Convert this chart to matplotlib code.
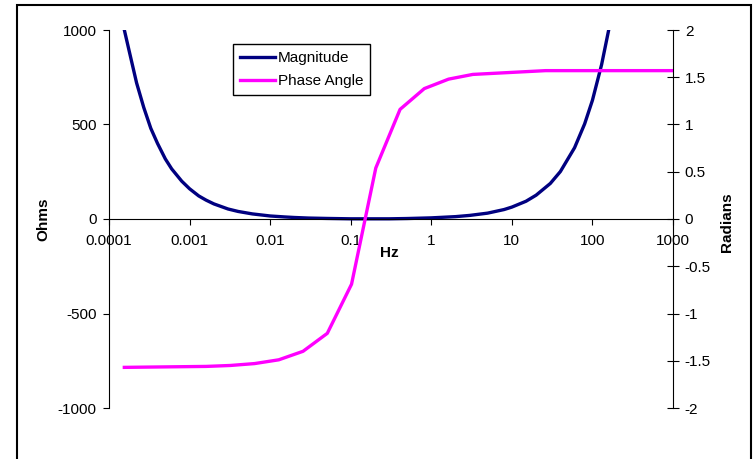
import matplotlib
matplotlib.use("Agg")
import matplotlib.pyplot as plt
from matplotlib.patches import Rectangle
from matplotlib.ticker import NullLocator

plt.rcParams['font.family'] = ['Liberation Sans', 'DejaVu Sans']
plt.rcParams['axes.unicode_minus'] = False

# impedance magnitude (Ohms)
mag_freq = [0.000155, 0.00018, 0.00022, 0.00027, 0.00033, 0.0004, 0.0005, 0.0006,
            0.0008, 0.001, 0.0013, 0.0016, 0.002, 0.003, 0.004, 0.006, 0.01, 0.015,
            0.02, 0.03, 0.05, 0.1, 0.16, 0.3, 0.5, 1, 2, 3, 5, 8, 10, 15, 20, 30,
            40, 60, 80, 100, 130, 160, 200]
mag_ohms = [1000, 880, 720, 590, 480, 400, 318, 265, 200, 160, 122, 100, 80, 53,
            40, 27, 16, 11, 8, 5, 3, 1, 1, 1, 2.5, 6, 12.5, 19, 31, 50, 63, 94,
            126, 188, 251, 377, 503, 628, 817, 1005, 1257]

# phase angle (radians)
phase_freq = [0.000155, 0.0016, 0.0032, 0.0064, 0.0128, 0.0256, 0.0512, 0.1024,
              0.2048, 0.4096, 0.8192, 1.6384, 3.2768, 26.2144, 1000]
phase_rad = [-1.57, -1.56, -1.55, -1.53, -1.49, -1.40, -1.21, -0.69,
             0.54, 1.16, 1.38, 1.48, 1.53, 1.57, 1.57]

x_ticks = [0.0001, 0.001, 0.01, 0.1, 1, 10, 100, 1000]
x_labels = ["0.0001", "0.001", "0.01", "0.1", "1", "10", "100", "1000"]
ohm_ticks = [-1000, -500, 0, 500, 1000]
rad_ticks = [-2, -1.5, -1, -0.5, 0, 0.5, 1, 1.5, 2]
rad_labels = ["-2", "-1.5", "-1", "-0.5", "0", "0.5", "1", "1.5", "2"]

W, H = 753, 459
FS = 11
fig = plt.figure(figsize=(W / 100, H / 100), dpi=100)
ax = fig.add_axes([109 / W, 1 - 408 / H, 564 / W, 378 / H])

line1, = ax.plot(mag_freq, mag_ohms, color='#000080', lw=2.4, label='Magnitude')
ax.set_xscale('log')
ax.set_xlim(1e-4, 1e3)
ax.set_ylim(-1000, 1000)

ax2 = ax.twinx()
line2, = ax2.plot(phase_freq, phase_rad, color='#FF00FF', lw=2.4, label='Phase Angle')
ax2.set_ylim(-2, 2)

# spines: x axis through zero, left axis for ohms, right axis for radians
ax.spines['bottom'].set_position(('data', 0))
ax.spines['top'].set_visible(False)
ax.spines['right'].set_visible(False)
for s in ['left', 'top', 'bottom']:
    ax2.spines[s].set_visible(False)

ax.set_xticks(x_ticks)
ax.set_xticklabels(x_labels)
ax.xaxis.set_minor_locator(NullLocator())
ax.tick_params(axis='x', direction='out', length=4, width=0.8, pad=7, labelsize=FS)

ax.set_yticks(ohm_ticks)
ax.tick_params(axis='y', direction='out', length=4, width=0.8, pad=5, labelsize=FS)

ax2.set_yticks(rad_ticks)
ax2.set_yticklabels(rad_labels)
ax2.tick_params(axis='y', direction='inout', length=9, width=0.8, pad=4, labelsize=FS)

fig.text(43 / W, 1 - 219 / H, "Ohms", rotation=90, ha='center', va='center',
         fontsize=FS, fontweight='bold')
fig.text(727 / W, 1 - 222 / H, "Radians", rotation=90, ha='center', va='center',
         fontsize=FS, fontweight='bold')
fig.text(389 / W, 1 - 253 / H, "Hz", ha='center', va='center',
         fontsize=FS, fontweight='bold')

leg = ax2.legend([line1, line2], ['Magnitude', 'Phase Angle'], loc='upper left',
                 bbox_to_anchor=(233 / W, 1 - 44 / H), bbox_transform=fig.transFigure,
                 frameon=True, fancybox=False, edgecolor='black', framealpha=1,
                 handlelength=2.3, handletextpad=0.2, borderpad=0.45,
                 labelspacing=0.6, fontsize=FS, borderaxespad=0)
leg.get_frame().set_linewidth(1.0)

# outer chart border (bottom edge cut off in the original)
fig.add_artist(Rectangle((17 / W, -0.1), (751 - 17) / W, 1 - 5 / H + 0.1,
                         transform=fig.transFigure, fill=False, lw=1.5,
                         edgecolor='black'))

fig.savefig("out.png", dpi=100)
